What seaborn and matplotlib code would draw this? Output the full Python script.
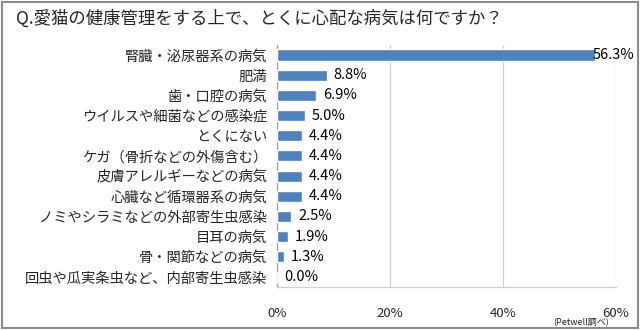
import matplotlib
matplotlib.use("Agg")
import matplotlib.pyplot as plt
import seaborn as sns
import pandas as pd
from matplotlib.patches import Rectangle

categories = ["腎臓・泌尿器系の病気", "肥満", "歯・口腔の病気", "ウイルスや細菌などの感染症",
              "とくにない", "ケガ（骨折などの外傷含む）", "皮膚アレルギーなどの病気",
              "心臓など循環器系の病気", "ノミやシラミなどの外部寄生虫感染", "目耳の病気",
              "骨・関節などの病気", "回虫や瓜実条虫など、内部寄生虫感染"]
values = [56.3, 8.8, 6.9, 5.0, 4.4, 4.4, 4.4, 4.4, 2.5, 1.9, 1.3, 0.0]
xticks = [0, 20, 40, 60]
title = "Q.愛猫の健康管理をする上で、とくに心配な病気は何ですか？"
source = "(Petwell調べ)"

sns.set_theme(style="white")
plt.rcParams['font.family'] = ['Noto Sans CJK JP', 'DejaVu Sans']

df = pd.DataFrame({"cat": categories, "val": values})

fig = plt.figure(figsize=(6.4, 3.3), dpi=100)
ax = fig.add_axes([0.433, 0.130, 0.9625 - 0.433, 0.864 - 0.130])
sns.barplot(data=df, x="val", y="cat", orient="h", color="#4F81BD", saturation=1,
            width=0.55, ax=ax, zorder=3)
ax.set_xlim(0, 60)
ax.set_xticks(xticks)
ax.set_xticklabels([f"{t}%" for t in xticks], fontsize=9.5)
ax.set_xlabel("")
ax.set_ylabel("")
ax.tick_params(axis='y', labelsize=10.3, length=0, pad=7)
ax.tick_params(axis='x', length=0, pad=14)
ax.grid(axis='x', color="#D0D0D0", linewidth=0.9, zorder=0)
for s in ["top", "right"]:
    ax.spines[s].set_visible(False)
ax.spines["left"].set_color("#A0A0A0")
ax.spines["bottom"].set_color("#D0D0D0")
ax.spines["left"].set_linewidth(0.9)
ax.spines["bottom"].set_linewidth(0.9)

for i, v in enumerate(values):
    ax.text(min(v + 1.2, 55.8), i, f"{v:.1f}%", va="center", ha="left", fontsize=10.5,
            color="black", zorder=4)

fig.text(0.025, 0.945, title, fontsize=12.5, ha="left", va="center")
fig.text(0.952, 0.022, source, fontsize=6.5, ha="right", va="center")
fig.patches.append(Rectangle((0.003, 0.005), 0.994, 0.99, transform=fig.transFigure,
                             fill=False, edgecolor="#8C8C8C", linewidth=1.5))
fig.savefig("out.png", dpi=100)
